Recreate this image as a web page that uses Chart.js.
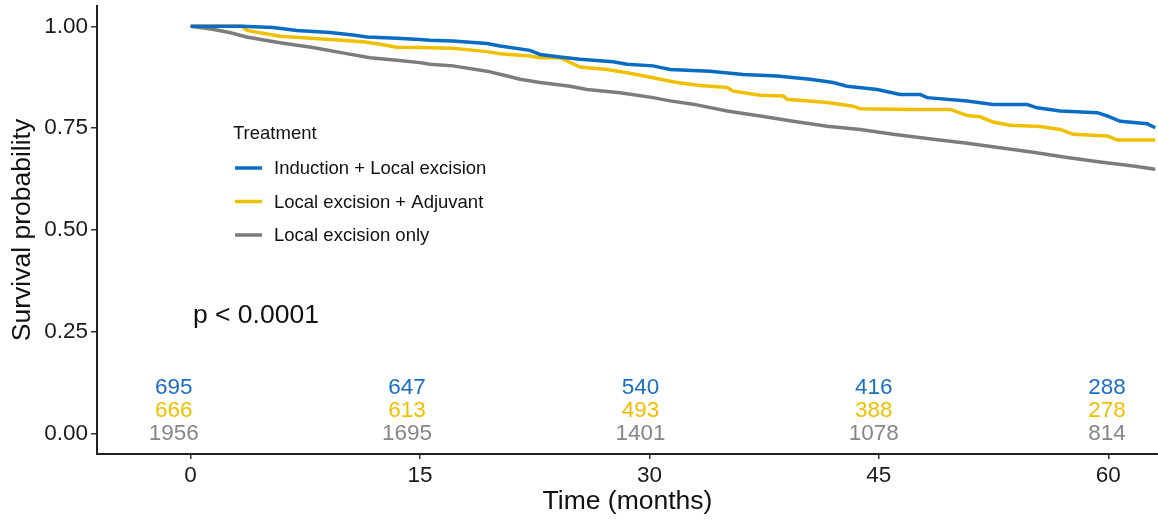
<!DOCTYPE html>
<html>
<head>
<meta charset="utf-8">
<script src="https://cdn.jsdelivr.net/npm/chart.js@4/dist/chart.umd.min.js"></script>
<style>
  html, body { margin: 0; padding: 0; background: #fff; }
  #wrap { width: 1158px; height: 523px; }
</style>
</head>
<body>
<div id="wrap"><canvas id="km"></canvas></div>
<script>
// Kaplan-Meier curves, months vs survival probability
const groups = ['Induction + Local excision', 'Local excision + Adjuvant', 'Local excision only'];
const colors = ['#0a6cc3', '#EFC000', '#7c7c7c'];
const textColors = ['#1a6fc4', '#EFC000', '#868686'];

const induction_time = [0, 3.36, 5.38, 6.95, 9.11, 10.62, 11.53, 13.49, 14.99, 15.65, 17.15, 19.38, 20.23, 22.19, 22.85, 24.15, 25.46, 27.62, 28.53, 30.24, 31.35, 33.96, 36.13, 38.34, 40.50, 42.00, 42.92, 44.89, 46.39, 47.70, 48.16, 50.77, 52.47, 54.70, 55.35, 56.85, 59.28, 59.93, 60.78, 62.54, 63.07];
const induction_surv = [1, 1, 0.997, 0.990, 0.985, 0.979, 0.974, 0.971, 0.968, 0.966, 0.964, 0.958, 0.952, 0.941, 0.931, 0.925, 0.919, 0.913, 0.907, 0.903, 0.894, 0.890, 0.882, 0.878, 0.870, 0.862, 0.853, 0.845, 0.833, 0.833, 0.825, 0.817, 0.808, 0.808, 0.800, 0.792, 0.788, 0.780, 0.767, 0.761, 0.751];

const adjuvant_time = [0, 3.36, 3.69, 5.84, 9.11, 11.27, 12.38, 13.49, 14.99, 17.15, 19.38, 20.23, 22.19, 22.85, 24.15, 24.61, 25.46, 27.23, 28.53, 30.24, 30.70, 31.80, 33.31, 35.08, 35.47, 37.24, 38.75, 39.00, 41.62, 43.32, 43.78, 47.05, 49.69, 50.77, 51.62, 52.47, 53.58, 55.55, 56.85, 57.71, 59.93, 60.58, 63.07];
const adjuvant_surv = [1, 1, 0.990, 0.976, 0.968, 0.962, 0.956, 0.949, 0.948, 0.946, 0.938, 0.933, 0.927, 0.923, 0.923, 0.915, 0.900, 0.894, 0.886, 0.874, 0.870, 0.862, 0.855, 0.850, 0.841, 0.831, 0.829, 0.821, 0.813, 0.804, 0.798, 0.796, 0.796, 0.781, 0.778, 0.765, 0.757, 0.754, 0.747, 0.735, 0.731, 0.721, 0.721];

const local_time = [0, 1.44, 2.55, 3.66, 5.84, 7.99, 10.21, 11.73, 13.49, 14.99, 15.65, 17.15, 19.38, 20.69, 21.54, 22.85, 24.81, 25.92, 28.08, 30.24, 31.35, 32.85, 35.08, 37.24, 39.39, 41.62, 43.78, 45.94, 48.55, 50.77, 52.93, 55.09, 57.31, 59.47, 61.63, 63.07];
const local_surv = [1, 0.993, 0.985, 0.974, 0.960, 0.948, 0.933, 0.923, 0.917, 0.911, 0.907, 0.903, 0.890, 0.878, 0.870, 0.862, 0.853, 0.845, 0.837, 0.825, 0.817, 0.809, 0.792, 0.780, 0.767, 0.755, 0.747, 0.735, 0.723, 0.713, 0.702, 0.691, 0.678, 0.667, 0.657, 0.649];

// numbers at risk
const riskTimes = [0, 15, 30, 45, 60];
const risk_induction = [695, 647, 540, 416, 288];
const risk_adjuvant = [666, 613, 493, 388, 278];
const risk_local = [1956, 1695, 1401, 1078, 814];

const xTicks = [0, 15, 30, 45, 60];
const yTicks = [0, 0.25, 0.5, 0.75, 1];
const pValue = 'p < 0.0001';

const FONT = '"Liberation Sans", Arial, Helvetica, sans-serif';

function pts(t, s) { return t.map((x, i) => ({ x: x, y: s[i] })); }

const overlay = {
  id: 'overlay',
  afterDatasetsDraw(chart) {
    const ctx = chart.ctx;
    const xs = chart.scales.x, ys = chart.scales.y;
    ctx.save();
    // risk table inside the plot
    ctx.font = '22.5px ' + FONT;
    ctx.textAlign = 'center';
    ctx.textBaseline = 'middle';
    const rows = [risk_induction, risk_adjuvant, risk_local];
    const rowY = [0.113, 0.056, 0];
    rows.forEach((row, r) => {
      ctx.fillStyle = textColors[r];
      row.forEach((n, i) => {
        const px = xs.getPixelForValue(riskTimes[i] * 1.017 - 1.1);
        ctx.fillText(String(n), px, ys.getPixelForValue(rowY[r]));
      });
    });
    // p value
    ctx.fillStyle = '#111';
    ctx.font = '26.5px ' + FONT;
    ctx.textAlign = 'left';
    ctx.fillText(pValue, xs.getPixelForValue(0.15), ys.getPixelForValue(0.29));
    // legend
    ctx.font = '18.5px ' + FONT;
    ctx.fillText('Treatment', 233, 134);
    groups.forEach((g, i) => {
      const y = 168 + i * 33.5;
      ctx.strokeStyle = colors[i];
      ctx.lineWidth = 3.5;
      ctx.beginPath();
      ctx.moveTo(235, y);
      ctx.lineTo(262, y);
      ctx.stroke();
      ctx.fillStyle = '#111';
      ctx.fillText(g, 274, y + 1);
    });
    ctx.restore();
  }
};

new Chart(document.getElementById('km'), {
  type: 'line',
  data: {
    datasets: [
      { label: groups[0], data: pts(induction_time, induction_surv), borderColor: colors[0], borderWidth: 3.5, pointRadius: 0 },
      { label: groups[1], data: pts(adjuvant_time, adjuvant_surv), borderColor: colors[1], borderWidth: 3.5, pointRadius: 0 },
      { label: groups[2], data: pts(local_time, local_surv), borderColor: colors[2], borderWidth: 3.5, pointRadius: 0 }
    ]
  },
  options: {
    responsive: true,
    maintainAspectRatio: false,
    animation: false,
    layout: { padding: { top: 6, right: 0, left: 0, bottom: 0 } },
    plugins: { legend: { display: false }, tooltip: { enabled: false } },
    scales: {
      x: {
        type: 'linear',
        min: -6.12,
        max: 63.25,
        afterFit: (s) => { s.height = 69; s.paddingLeft = 0; s.paddingRight = 0; },
        afterBuildTicks: (s) => { s.ticks = xTicks.map(v => ({ value: v })); },
        ticks: { color: '#1a1a1a', font: { family: FONT, size: 22.5 }, padding: 3, maxRotation: 0 },
        grid: { drawOnChartArea: false, drawTicks: true, tickLength: 5, color: '#333', lineWidth: 1.5 },
        border: { display: true, color: '#222', width: 2 },
        title: { display: true, text: 'Time (months)', color: '#111', font: { family: FONT, size: 26.5 }, padding: { top: 6, bottom: 5 } }
      },
      y: {
        type: 'linear',
        min: -0.05,
        max: 1.05,
        afterFit: (s) => { s.width = 97; s.paddingTop = 0; s.paddingBottom = 0; },
        afterBuildTicks: (s) => { s.ticks = yTicks.map(v => ({ value: v })); },
        ticks: { color: '#1a1a1a', font: { family: FONT, size: 22.5 }, padding: 3, callback: (v) => Number(v).toFixed(2) },
        grid: { drawOnChartArea: false, drawTicks: true, tickLength: 6, color: '#333', lineWidth: 1.5 },
        border: { display: true, color: '#222', width: 2 },
        title: { display: true, text: 'Survival probability', color: '#111', font: { family: FONT, size: 26.5 }, padding: { top: 7, bottom: 6 } }
      }
    }
  },
  plugins: [overlay]
});
</script>
</body>
</html>
